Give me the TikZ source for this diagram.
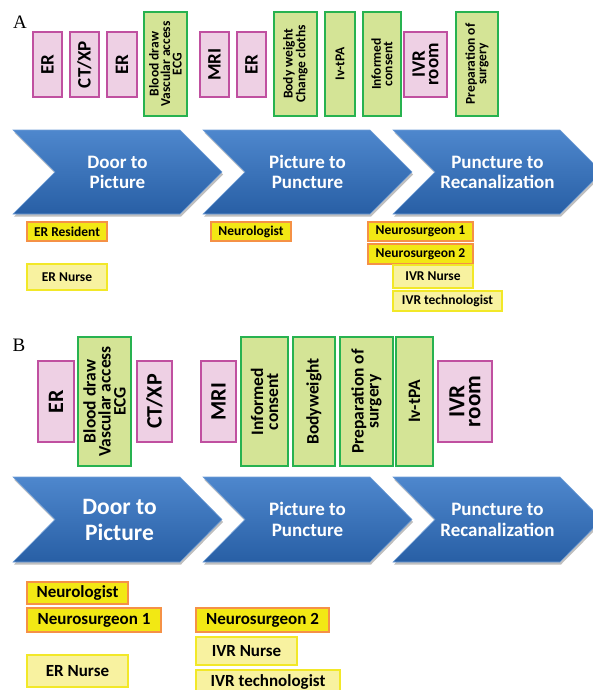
\documentclass[tikz,border=0pt]{standalone}
\usepackage{fontspec}
\setmainfont{Carlito}
\newfontfamily\serifAB{Liberation Serif}
\definecolor{pinkfill}{RGB}{238,208,228}
\definecolor{pinkline}{RGB}{192,80,160}
\definecolor{greenfill}{RGB}{212,228,150}
\definecolor{greenline}{RGB}{40,178,80}
\definecolor{yelfill}{RGB}{242,232,20}
\definecolor{orangeline}{RGB}{245,145,70}
\definecolor{lyelfill}{RGB}{248,242,160}
\definecolor{yelline}{RGB}{242,232,40}
\definecolor{chevtop}{RGB}{78,135,205}
\definecolor{chevbot}{RGB}{40,95,165}
\newcommand{\myfs}[2]{\fontsize{#1}{#2}\selectfont\bfseries}
\tikzset{
  box/.style={inner sep=0pt, align=center, line width=1.1pt},
  pinkbox/.style={box, draw=pinkline, fill=pinkfill, rotate=90},
  greenbox/.style={box, draw=greenline, fill=greenfill, rotate=90},
  orangelab/.style={box, draw=orangeline, fill=yelfill},
  yellab/.style={box, draw=yelline, fill=lyelfill},
  chevfill/.style={top color=chevtop, bottom color=chevbot, draw=chevtop!80!white, line width=0.6pt},
  chevshadow/.style={fill=black, opacity=0.25},
  chevtext/.style={text=white, align=center, inner sep=0pt},
  letter/.style={font=\serifAB\fontsize{19}{19}\selectfont, inner sep=0pt}
}
\newcommand{\mychev}[3]{%
  \path[chevshadow] (#1+1,#2+2.5) -- ++(167,0) -- ++(42,#3) -- ++(-42,#3) -- ++(-167,0) -- ++(42,-#3) -- cycle;
  \path[chevfill] (#1,#2) -- ++(167,0) -- ++(42,#3) -- ++(-42,#3) -- ++(-167,0) -- ++(42,-#3) -- cycle;}
\begin{document}
\begin{tikzpicture}[x=1pt,y=-1pt]
\useasboundingbox (0,0) rectangle (593,690);
\clip (0,0) rectangle (593,690);
% ---------------- A ----------------
\node[letter] (labA) at (20,22) {A};
\node[pinkbox, minimum width=65pt, minimum height=29pt, font=\myfs{19}{14}] (erA1) at (47.5,64.5) {ER};
\node[pinkbox, minimum width=65pt, minimum height=29pt, font=\myfs{19}{14}] (ctA) at (84.5,64.5) {CT/XP};
\node[pinkbox, minimum width=65pt, minimum height=30pt, font=\myfs{19}{14}] (erA2) at (122,64.5) {ER};
\node[greenbox, minimum width=104pt, minimum height=43pt, font=\myfs{13.5}{11.5}] (bloodA) at (165.5,64) {Blood draw\\Vascular access\\ECG};
\node[pinkbox, minimum width=65pt, minimum height=29pt, font=\myfs{19}{14}] (mriA) at (214.5,64.5) {MRI};
\node[pinkbox, minimum width=65pt, minimum height=29pt, font=\myfs{19}{14}] (erA3) at (251.5,64.5) {ER};
\node[greenbox, minimum width=104pt, minimum height=43pt, font=\myfs{13.5}{11.5}] (bodyA) at (295.5,64) {Body weight\\Change cloths};
\node[greenbox, minimum width=104pt, minimum height=30pt, font=\myfs{13.5}{11.5}] (ivA) at (340,64) {Iv-tPA};
\node[greenbox, minimum width=104pt, minimum height=38pt, font=\myfs{13.5}{11.5}] (infA) at (382,64) {Informed\\consent};
\node[pinkbox, minimum width=65pt, minimum height=43pt, font=\myfs{19}{13.5}] (ivrA) at (425.5,64.5) {IVR\\room};
\node[greenbox, minimum width=104pt, minimum height=42pt, font=\myfs{13.5}{11.5}] (prepA) at (477,64) {Preparation of\\surgery};
% chevrons A
\mychev{13}{130}{42}
\mychev{203}{130}{42}
\mychev{393}{130}{42}
\node[chevtext, font=\myfs{19}{20}] (dtpA) at (117.5,172) {Door to\\Picture};
\node[chevtext, font=\myfs{19}{20}] (ptpA) at (307.5,172) {Picture to\\Puncture};
\node[chevtext, font=\myfs{19}{20}] (ptrA) at (497.5,172) {Puncture to\\Recanalization};
% labels A
\node[orangelab, minimum width=80pt, minimum height=19pt, font=\myfs{13.5}{14}] (erresA) at (67,231.5) {ER Resident};
\node[yellab, minimum width=80pt, minimum height=26pt, font=\myfs{13.5}{14}] (ernA) at (67,277) {ER Nurse};
\node[orangelab, minimum width=80pt, minimum height=19pt, font=\myfs{13.5}{14}] (neurolA) at (251,231.5) {Neurologist};
\node[orangelab, minimum width=105pt, minimum height=19pt, font=\myfs{13.5}{14}] (ns1A) at (420.5,231.5) {Neurosurgeon 1};
\node[orangelab, minimum width=105pt, minimum height=20pt, font=\myfs{13.5}{14}] (ns2A) at (420.5,254) {Neurosurgeon 2};
\node[yellab, minimum width=80pt, minimum height=23pt, font=\myfs{13.5}{14}] (ivrnA) at (433,276.5) {IVR Nurse};
\node[yellab, minimum width=109pt, minimum height=20pt, font=\myfs{13.5}{14}] (ivrtA) at (447.5,301) {IVR technologist};
% ---------------- B ----------------
\node[letter] (labB) at (19,345) {B};
\node[pinkbox, minimum width=81pt, minimum height=36pt, font=\myfs{22}{16}] (erB) at (56,401.5) {ER};
\node[greenbox, minimum width=129pt, minimum height=53pt, font=\myfs{17.5}{15}] (bloodB) at (104.5,401.5) {Blood draw\\Vascular access\\ECG};
\node[pinkbox, minimum width=81pt, minimum height=35pt, font=\myfs{22}{16}] (ctB) at (154.5,401.5) {CT/XP};
\node[pinkbox, minimum width=81pt, minimum height=35pt, font=\myfs{22}{16}] (mriB) at (218.5,401.5) {MRI};
\node[greenbox, minimum width=129pt, minimum height=47pt, font=\myfs{17.5}{15}] (infB) at (264.5,401.5) {Informed\\consent};
\node[greenbox, minimum width=129pt, minimum height=42pt, font=\myfs{17.5}{15}] (bodyB) at (314,401.5) {Bodyweight};
\node[greenbox, minimum width=129pt, minimum height=53pt, font=\myfs{17.5}{15}] (prepB) at (366.5,401.5) {Preparation of\\surgery};
\node[greenbox, minimum width=129pt, minimum height=37pt, font=\myfs{17.5}{15}] (ivB) at (414.5,401.5) {Iv-tPA};
\node[pinkbox, minimum width=81pt, minimum height=54pt, font=\myfs{23}{16}] (ivrB) at (465,401.5) {IVR\\room};
% chevrons B
\mychev{13}{477}{42.5}
\mychev{203}{477}{42.5}
\mychev{393}{477}{42.5}
\node[chevtext, font=\myfs{23.5}{26}] (dtpB) at (119.5,519.5) {Door to\\Picture};
\node[chevtext, font=\myfs{19}{21}] (ptpB) at (307.5,519.5) {Picture to\\Puncture};
\node[chevtext, font=\myfs{19}{21}] (ptrB) at (497.5,519.5) {Puncture to\\Recanalization};
% labels B
\node[orangelab, minimum width=101pt, minimum height=22pt, font=\myfs{17}{18}] (neurolB) at (77.5,593) {Neurologist};
\node[orangelab, minimum width=134pt, minimum height=24pt, font=\myfs{17}{18}] (ns1B) at (94,620) {Neurosurgeon 1};
\node[yellab, minimum width=101pt, minimum height=32pt, font=\myfs{17}{18}] (ernB) at (77.5,671) {ER Nurse};
\node[orangelab, minimum width=133pt, minimum height=24pt, font=\myfs{17}{18}] (ns2B) at (262.5,620) {Neurosurgeon 2};
\node[yellab, minimum width=101pt, minimum height=28pt, font=\myfs{17}{18}] (ivrnB) at (246.5,651) {IVR Nurse};
\node[yellab, minimum width=144pt, minimum height=23pt, font=\myfs{17}{18}] (ivrtB) at (268,681.5) {IVR technologist};
\end{tikzpicture}
\end{document}
